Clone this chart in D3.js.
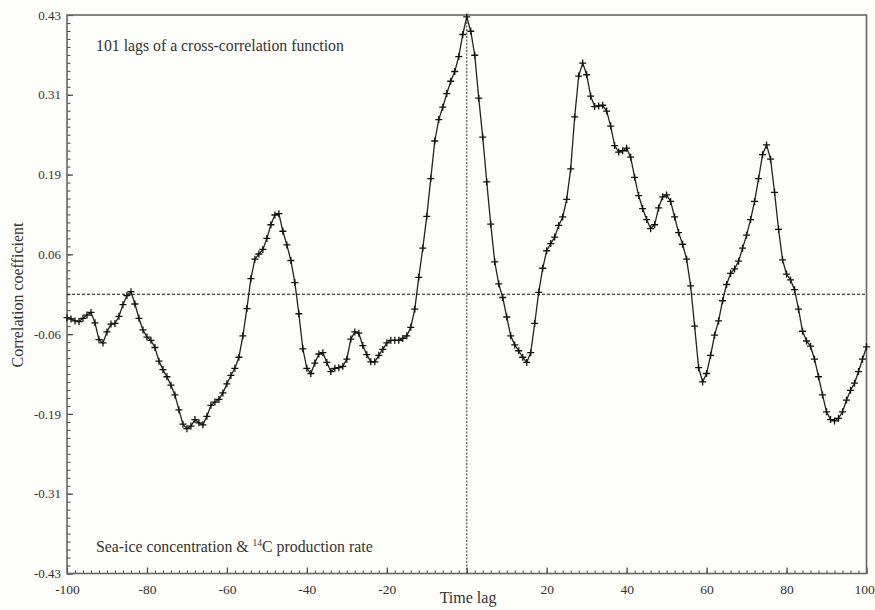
<!DOCTYPE html>
<html>
<head>
<meta charset="utf-8">
<script src="https://cdn.jsdelivr.net/npm/d3@7"></script>
<style>
	body { margin:0; background:#fdfdfa; }
	svg { display:block; }
	text { font-family:"Liberation Serif","Times New Roman",serif; fill:#333; }
</style>
</head>
<body>
<svg id="chart" width="875" height="610"></svg>
<script>
// lags -100 .. 100, one value per lag
var lagRange = [-100, 100];
var corr = [
	-0.036,-0.038,-0.041,-0.042,-0.037,-0.032,-0.028,-0.044,-0.070,-0.075,
	-0.058,-0.046,-0.045,-0.034,-0.016,-0.002, 0.004,-0.015,-0.037,-0.055,
	-0.066,-0.071,-0.082,-0.103,-0.116,-0.127,-0.140,-0.155,-0.178,-0.200,
	-0.207,-0.203,-0.193,-0.198,-0.201,-0.188,-0.171,-0.166,-0.162,-0.152,
	-0.138,-0.125,-0.114,-0.097,-0.064,-0.022, 0.024, 0.054, 0.062, 0.069,
	 0.086, 0.107, 0.122, 0.124, 0.097, 0.076, 0.052, 0.018,-0.030,-0.084,
	-0.114,-0.122,-0.106,-0.092,-0.090,-0.105,-0.119,-0.114,-0.113,-0.111,
	-0.100,-0.069,-0.058,-0.060,-0.079,-0.093,-0.104,-0.104,-0.094,-0.085,
	-0.075,-0.071,-0.071,-0.071,-0.068,-0.064,-0.051,-0.023, 0.026, 0.071,
	 0.120, 0.178, 0.236, 0.269, 0.288, 0.309, 0.328, 0.343, 0.366, 0.400,
	 0.427,
	 0.405, 0.368, 0.302, 0.242, 0.173, 0.108, 0.050, 0.016,-0.005,-0.035,
	-0.064,-0.078,-0.087,-0.097,-0.105,-0.090,-0.045, 0.003, 0.040, 0.067,
	 0.078, 0.088, 0.106, 0.119, 0.146, 0.193, 0.273, 0.336, 0.356, 0.338,
	 0.305, 0.289, 0.290, 0.291, 0.282, 0.259, 0.229, 0.219, 0.221, 0.225,
	 0.211, 0.180, 0.152, 0.132, 0.115, 0.101, 0.107, 0.133, 0.150, 0.153,
	 0.143, 0.119, 0.095, 0.077, 0.054, 0.013,-0.049,-0.113,-0.135,-0.122,
	-0.094,-0.063,-0.041,-0.010, 0.015, 0.032, 0.039, 0.051, 0.071, 0.091,
	 0.115, 0.143, 0.178, 0.215, 0.230, 0.208, 0.157, 0.100, 0.053, 0.031,
	 0.022, 0.007,-0.023,-0.057,-0.072,-0.080,-0.100,-0.127,-0.155,-0.181,
	-0.193,-0.195,-0.191,-0.181,-0.163,-0.148,-0.137,-0.119,-0.100,-0.081
];
var xTickLabels = ["-100","-80","-60","-40","-20","","20","40","60","80","100"];
var yTickLabels = ["-0.43","-0.31","-0.19","-0.06","0.06","0.19","0.31","0.43"];
var yDomain = [-0.43, 0.43];

var lags = d3.range(lagRange[0], lagRange[1] + 1);
var data = lags.map(function(l, i){ return {lag:l, r:corr[i]}; });

var svg = d3.select("#chart");
var x = d3.scaleLinear().domain(lagRange).range([67, 866.5]);
var y = d3.scaleLinear().domain(yDomain).range([573.5, 15]);

var xMajor = d3.range(lagRange[0], lagRange[1] + 1, 20);
var xMinor = d3.range(lagRange[0], lagRange[1] + 1, 2);
var yStep = (yDomain[1] - yDomain[0]) / (yTickLabels.length - 1);
var yMajor = yTickLabels.map(function(d, i){ return yDomain[0] + i * yStep; });
var yMinor = d3.range(0, (yTickLabels.length - 1) * 10 + 1).map(function(i){ return yDomain[0] + i * yStep / 10; });

// minor ticks
svg.append("g").attr("transform", "translate(0,573.5)")
	.call(d3.axisBottom(x).tickValues(xMinor).tickSize(-3).tickFormat(""))
	.call(function(g){ g.select(".domain").remove(); g.selectAll("line").attr("stroke", "#444"); });
svg.append("g").attr("transform", "translate(67,0)")
	.call(d3.axisLeft(y).tickValues(yMinor).tickSize(-3.5).tickFormat(""))
	.call(function(g){ g.select(".domain").remove(); g.selectAll("line").attr("stroke", "#444"); });

// major ticks + labels
svg.append("g").attr("transform", "translate(0,573.5)")
	.call(d3.axisBottom(x).tickValues(xMajor).tickSize(-6).tickPadding(11)
		.tickFormat(function(d, i){ return xTickLabels[i]; }))
	.call(function(g){
		g.select(".domain").remove();
		g.selectAll("line").attr("stroke", "#444").attr("stroke-width", 1.2);
		g.selectAll("text").attr("font-size", 13.5).attr("fill", "#333")
			.attr("dx", function(d){ return d === lagRange[1] ? -2.5 : 0; });
	});
svg.append("g").attr("transform", "translate(67,0)")
	.call(d3.axisLeft(y).tickValues(yMajor).tickSize(-6).tickPadding(6)
		.tickFormat(function(d, i){ return yTickLabels[i]; }))
	.call(function(g){
		g.select(".domain").remove();
		g.selectAll("line").attr("stroke", "#444").attr("stroke-width", 1.2);
		g.selectAll("text").attr("font-size", 13).attr("fill", "#333");
	});

// frame
svg.append("rect")
	.attr("x", x(lagRange[0])).attr("y", y(yDomain[1]))
	.attr("width", x(lagRange[1]) - x(lagRange[0]))
	.attr("height", y(yDomain[0]) - y(yDomain[1]))
	.attr("fill", "none").attr("stroke", "#666").attr("stroke-width", 1.6);

// reference lines
svg.append("line")
	.attr("x1", x(lagRange[0])).attr("x2", x(lagRange[1]))
	.attr("y1", y(0)).attr("y2", y(0))
	.attr("stroke", "#111").attr("stroke-width", 1).attr("stroke-dasharray", "3,2");
svg.append("line")
	.attr("x1", x(0)).attr("x2", x(0))
	.attr("y1", y(yDomain[1])).attr("y2", y(yDomain[0]))
	.attr("stroke", "#555").attr("stroke-width", 1.2).attr("stroke-dasharray", "2,1.5");

// series
var line = d3.line().x(function(d){ return x(d.lag); }).y(function(d){ return y(d.r); });
svg.append("path").datum(data)
	.attr("d", line).attr("fill", "none")
	.attr("stroke", "#222").attr("stroke-width", 1.3);

svg.append("g").selectAll("path.m").data(data).enter().append("path")
	.attr("class", "m")
	.attr("d", function(d){
		var cx = x(d.lag), cy = y(d.r), s = 3.5;
		return "M" + (cx - s) + "," + cy + "H" + (cx + s) + "M" + cx + "," + (cy - s) + "V" + (cy + s);
	})
	.attr("stroke", "#111").attr("stroke-width", 1.3);

// annotations
svg.append("text").attr("x", 96).attr("y", 51).attr("font-size", 15.8)
	.text("101 lags of a cross-correlation function");
var note = svg.append("text").attr("x", 96).attr("y", 552).attr("font-size", 15.8);
note.append("tspan").text("Sea-ice concentration & ");
note.append("tspan").attr("font-size", 9.5).attr("dy", -6).text("14");
note.append("tspan").attr("dy", 6).text("C production rate");

svg.append("text").attr("x", 468).attr("y", 603).attr("font-size", 16)
	.attr("text-anchor", "middle").text("Time lag");
svg.append("text").attr("transform", "translate(23,295) rotate(-90)")
	.attr("font-size", 16).attr("text-anchor", "middle").text("Correlation coefficient");
</script>
</body>
</html>
